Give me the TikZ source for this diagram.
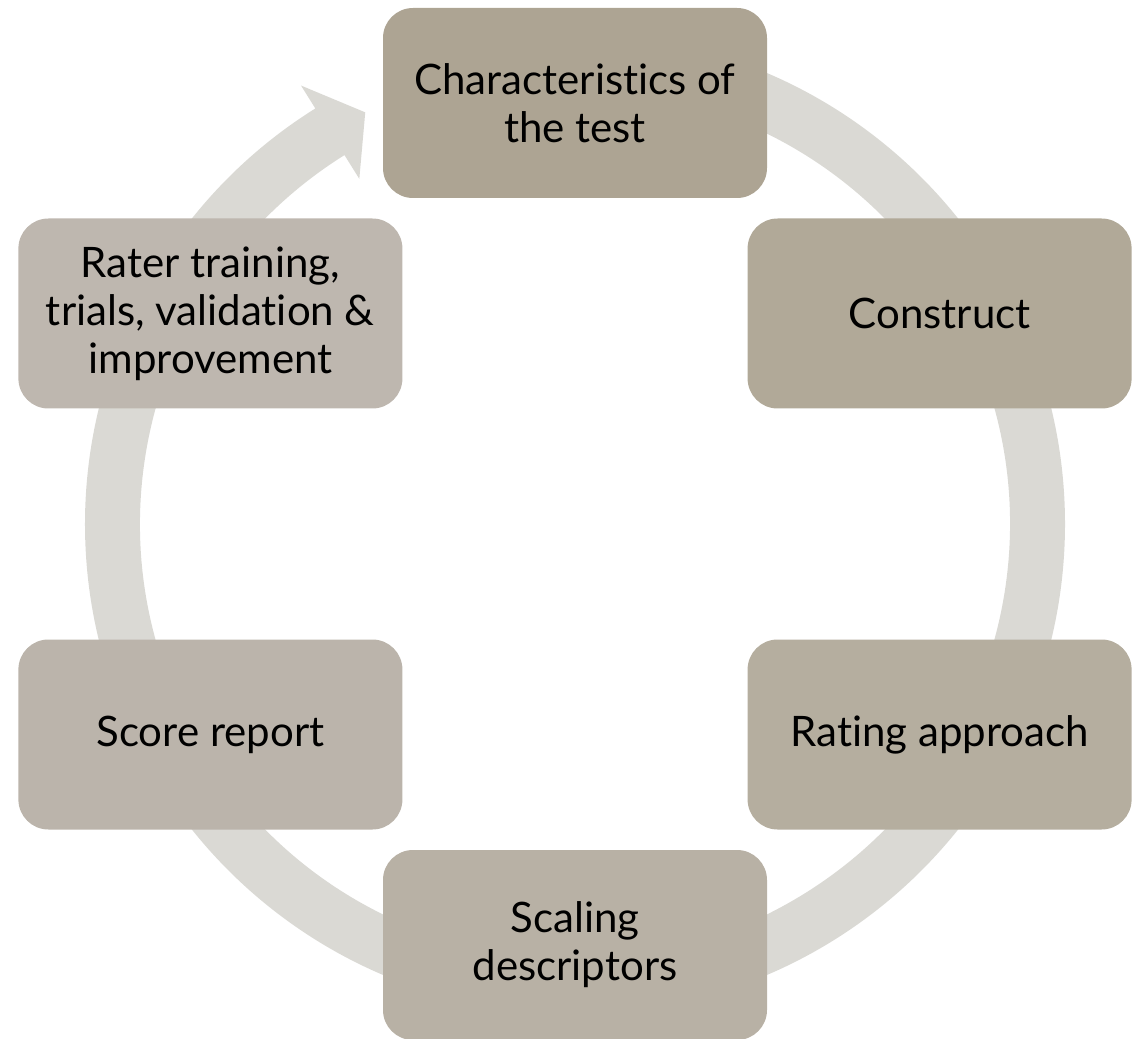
\documentclass[tikz,border=0pt]{standalone}
\usepackage{fontspec}
\setmainfont{Lato}[Ligatures=NoCommon]
\usetikzlibrary{positioning}

\definecolor{ringgray}{HTML}{DAD9D4}
\definecolor{stepone}{HTML}{ADA493}
\definecolor{steptwo}{HTML}{B1A998}
\definecolor{stepthree}{HTML}{B5AE9F}
\definecolor{stepfour}{HTML}{B8B1A5}
\definecolor{stepfive}{HTML}{BBB4AB}
\definecolor{stepsix}{HTML}{BEB7AF}

\begin{document}
\begin{tikzpicture}[x=0.5pt,y=0.5pt,
    stagebox/.style={rounded corners=15pt,minimum width=192pt,minimum height=95pt,
      inner sep=0pt,align=center,font=\fontsize{21}{24}\selectfont}]
  \useasboundingbox (-575,-514) rectangle (558,524);
  % the cycle ring with its arrow head
  \fill[ringgray] (90:490) arc[start angle=90,end angle=-238,radius=490]
    -- (122:517) -- (117:462) -- (122:407) -- (122:435)
    arc[start angle=-238,end angle=90,radius=435] -- cycle;
  \node[stagebox,fill=stepone] (test) at (90:421) {Characteristics of\\the test};
  \node[stagebox,fill=steptwo] (construct) at (30:421) {Construct};
  \node[stagebox,fill=stepthree] (rating) at (-30:421) {Rating approach};
  \node[stagebox,fill=stepfour] (scaling) at (-90:421) {Scaling\\descriptors};
  \node[stagebox,fill=stepfive] (report) at (-150:421) {Score report};
  \node[stagebox,fill=stepsix] (rater) at (150:421) {Rater training,\\trials, validation \&\\improvement};
\end{tikzpicture}
\end{document}
